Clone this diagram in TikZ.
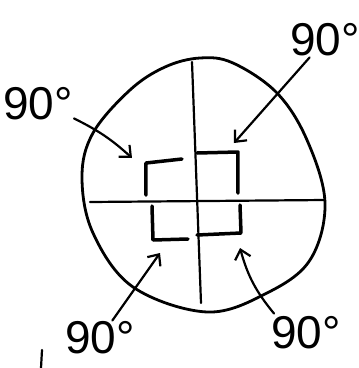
\documentclass[tikz,border=0pt]{standalone}
\usepackage{fontspec}
\setmainfont{Liberation Sans}
\usetikzlibrary{arrows.meta, positioning}

\begin{document}
\begin{tikzpicture}[
    x=1pt, y=-1pt,
    pen/.style={line width=2.2pt, line cap=round, line join=round},
    rightmark/.style={line width=3.5pt, line cap=round, line join=round},
    lbl/.style={inner sep=1pt, font=\fontsize{46}{46}\selectfont},
    pointer/.style={pen, -{Straight Barb[length=9pt, width=16pt]}}
]
\useasboundingbox (0,0) rectangle (359,368);

% Outline
\draw[pen, line width=2.8pt] plot[smooth cycle, tension=0.6] coordinates {
    (200,58) (233,63) (277,93) (307,140) (325,203) (310,260) (267,293)
    (207,312) (133,287) (93,233) (82,177) (93,133) (130,90) (165,67)};

% Crossing lines
\draw[pen] (192,62) -- (201,303);
\draw[pen] (90,202) -- (325,200);

% Right angle marks
\draw[rightmark] (146,195) -- (146,163) -- (182,159);
\draw[rightmark] (197,153) -- (238,152) -- (238,193);
\draw[rightmark] (152,206) -- (153,240) -- (188,239);
\draw[rightmark] (197,235) -- (241,233) -- (240,205);

% Arrow targets
\coordinate (tUL) at (132,158);
\coordinate (tUR) at (234,143);
\coordinate (tLL) at (160,253);
\coordinate (tLR) at (240,248);

% Labels
\node[lbl] (lblUL) at (38,104) {90°};
\node[lbl] (lblUR) at (325,40) {90°};
\node[lbl] (lblLL) at (100,338) {90°};
\node[lbl] (lblLR) at (306,333) {90°};

% Arrows
\draw[pointer] (lblUL) to[bend left=8] (tUL);
\draw[pointer] (lblUR) -- (tUR);
\draw[pointer] (lblLL) -- (tLL);
\draw[pointer] ([shift={(4,-2)}]lblLR.north west) to[bend left=12] (tLR);

% stray stroke
\draw[pen] (42,350) -- (41,368);

\end{tikzpicture}
\end{document}
